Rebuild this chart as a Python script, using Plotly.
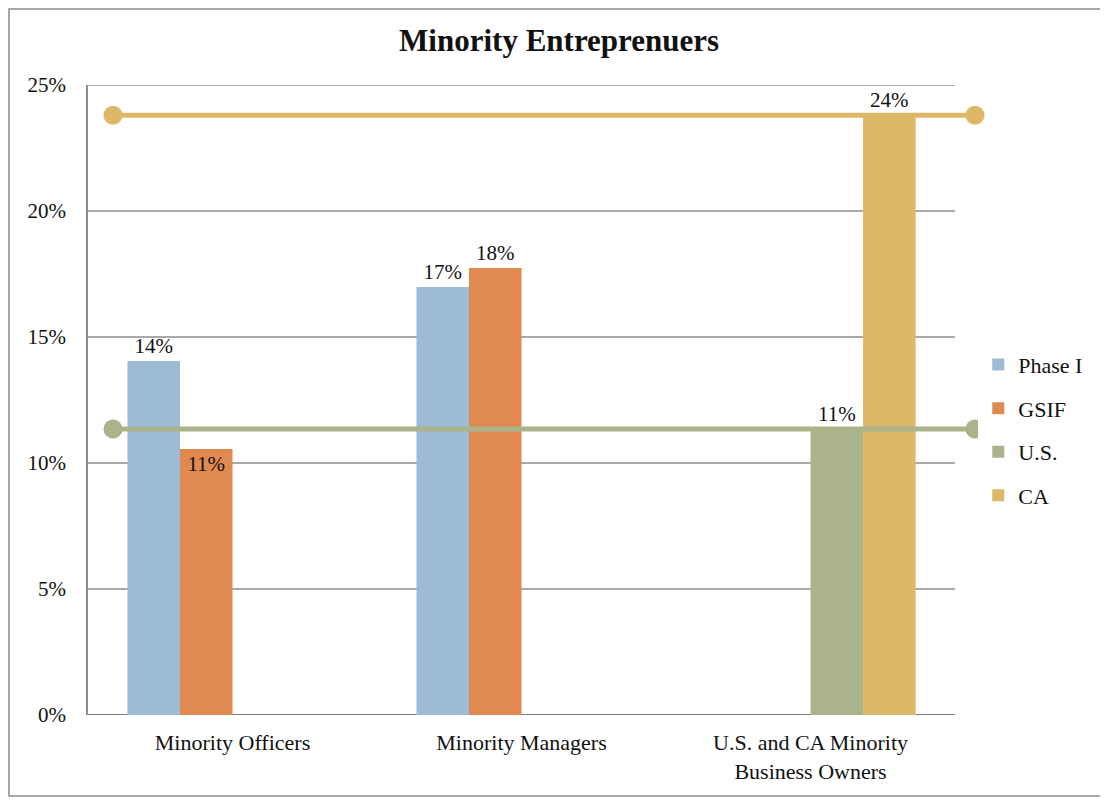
import plotly.graph_objects as go

# data (percent)
categories = ["Minority Officers", "Minority Managers", "U.S. and CA Minority<br>Business Owners"]
phase1 = [14.05, 16.98, None]
gsif = [10.56, 17.74, None]
us = [None, None, 11.35]
ca = [None, None, 23.8]
us_line = 11.35
ca_line = 23.8
y_ticks = [0, 5, 10, 15, 20, 25]

colors = {
    "Phase I": "#9DBAD7",
    "GSIF": "#E08A52",
    "U.S.": "#ABB38A",
    "CA": "#DDB866",
}
FONT = "Liberation Serif"


def labels(vals):
    return ["" if v is None else f"{round(v):.0f}%" for v in vals]


fig = go.Figure()

series = [("Phase I", phase1), ("GSIF", gsif), ("U.S.", us), ("CA", ca)]
for name, vals in series:
    pos = ["outside"] * len(vals)
    if name == "GSIF":
        pos[0] = "inside"  # label sits inside the short bar in the original
    fig.add_trace(go.Bar(
        x=categories, y=vals, name=name,
        marker=dict(color=colors[name], line=dict(width=0)),
        text=labels(vals), textposition=pos,
        insidetextanchor="end",
        textfont=dict(family=FONT, size=21, color="#111"),
        constraintext="none", cliponaxis=False,
        legendgroup=name,
    ))

# benchmark lines drawn over the bars, on a hidden overlaying axis
for name, val in [("CA", ca_line), ("U.S.", us_line)]:
    fig.add_trace(go.Scatter(
        x=[0, 1], y=[val, val], xaxis="x2", mode="lines+markers",
        line=dict(color=colors[name], width=5),
        marker=dict(size=19, color=colors[name]),
        showlegend=False, hoverinfo="skip", cliponaxis=False,
    ))

# gridlines only across the category area
shapes = []
for t in y_ticks:
    shapes.append(dict(type="line", xref="x domain", yref="y", x0=0, x1=0.9612, y0=t, y1=t,
                       line=dict(color="#8c8c8c" if t else "#7f7f7f", width=1.5 if t else 2), layer="below"))
# outer chart border
shapes.append(dict(type="rect", xref="paper", yref="paper", x0=-0.0876, x1=1.1253, y0=-0.1286, y1=1.1206,
                   line=dict(color="#8c8c8c", width=1.5)))

fig.update_layout(
    width=1100, height=795,
    margin=dict(l=80, r=118, t=77, b=88),
    paper_bgcolor="white", plot_bgcolor="white",
    font=dict(family=FONT, size=20, color="#111"),
    title=dict(text="<b>Minority Entreprenuers</b>", x=0.501, xref="container", xanchor="center",
               y=0.9597, yref="container", yanchor="middle", font=dict(family=FONT, size=31, color="#111")),
    barmode="group", bargap=0.273, bargroupgap=0,
    xaxis=dict(range=[-0.5, 2.621], showgrid=False, showline=False, zeroline=False,
               ticks="", ticklabelstandoff=12, tickfont=dict(size=22)),
    xaxis2=dict(range=[-0.029, 1.0174], overlaying="x", visible=False),
    yaxis=dict(range=[0, 25], tickvals=y_ticks, ticktext=[f"{t}%" for t in y_ticks],
               showgrid=False, zeroline=False, showline=True, linecolor="#8c8c8c", linewidth=1.5,
               ticks="", ticklabelstandoff=16, tickfont=dict(size=21)),
    legend=dict(x=0.987, y=0.452, xanchor="left", yanchor="middle", tracegroupgap=12,
                font=dict(size=22), itemwidth=30),
    shapes=shapes,
    uniformtext=dict(mode=False),
)

fig.write_html("out.html")
